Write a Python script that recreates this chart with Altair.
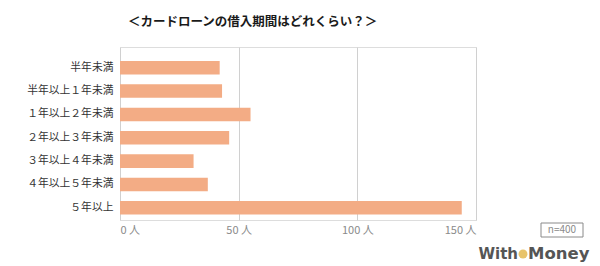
import altair as alt
import pandas as pd

categories = ["半年未満", "半年以上１年未満", "１年以上２年未満", "２年以上３年未満",
              "３年以上４年未満", "４年以上５年未満", "５年以上"]
values = [42, 43, 55, 46, 31, 37, 144]
tick_values = [0, 50, 100, 150]
title_text = "＜カードローンの借入期間はどれくらい？＞"
note_text = "n=400"

df = pd.DataFrame({"cat": categories, "val": values})

FONT = "Noto Sans CJK JP"

bars = alt.Chart(df).mark_bar(color="#F3AC85").encode(
    x=alt.X("val:Q", scale=alt.Scale(domain=[0, 150], nice=False),
            axis=alt.Axis(values=tick_values, title=None, labelExpr="datum.value + ' 人'",
                          grid=True, gridColor="#D0D0D0", domain=False, ticks=False,
                          labelColor="#8A8A8A", labelFont=FONT, labelFontSize=11,
                          labelPadding=4)),
    y=alt.Y("cat:N", sort=categories,
            scale=alt.Scale(paddingInner=0.42, paddingOuter=0.415, align=0.72),
            axis=alt.Axis(title=None, domain=False, ticks=False, grid=False,
                          labelColor="#333333", labelFont=FONT, labelFontSize=10.8,
                          labelPadding=7)),
)

title = alt.Chart(pd.DataFrame({"t": [title_text]})).mark_text(
    font=FONT, fontSize=12.5, fontWeight="bold", color="#1a1a1a", align="center", baseline="middle"
).encode(text="t:N", x=alt.value(132.6), y=alt.value(-25))

box = alt.Chart(pd.DataFrame({"a": [0]})).mark_rect(
    fill="white", stroke="#8A8A8A", strokeWidth=1
).encode(x=alt.value(421), x2=alt.value(463), y=alt.value(176), y2=alt.value(190))

note = alt.Chart(pd.DataFrame({"t": [note_text]})).mark_text(
    font=FONT, fontSize=10, color="#8A8A8A", align="center", baseline="middle"
).encode(text="t:N", x=alt.value(442), y=alt.value(183))

logo1 = alt.Chart(pd.DataFrame({"t": ["With"]})).mark_text(
    font="DejaVu Sans", fontSize=15, fontWeight="bold", color="#555555", align="right", baseline="middle"
).encode(text="t:N", x=alt.value(398), y=alt.value(207))

logo2 = alt.Chart(pd.DataFrame({"t": ["Money"]})).mark_text(
    font="DejaVu Sans", fontSize=16.5, fontWeight="bold", color="#555555", align="left", baseline="middle"
).encode(text="t:N", x=alt.value(408), y=alt.value(207))

logo_dot = alt.Chart(pd.DataFrame({"a": [0]})).mark_point(
    filled=True, color="#E8C36A", size=80, opacity=1
).encode(x=alt.value(403), y=alt.value(207))

chart = alt.layer(bars, title, box, note, logo1, logo_dot, logo2).properties(
    width=356, height=173,
    autosize=alt.AutoSizeParams(type="none"),
    padding={"left": 120, "top": 47, "right": 124, "bottom": 46},
).configure_view(stroke=None).configure(background="white")

chart.save("out.html", embed_options={"renderer": "svg", "actions": False})
